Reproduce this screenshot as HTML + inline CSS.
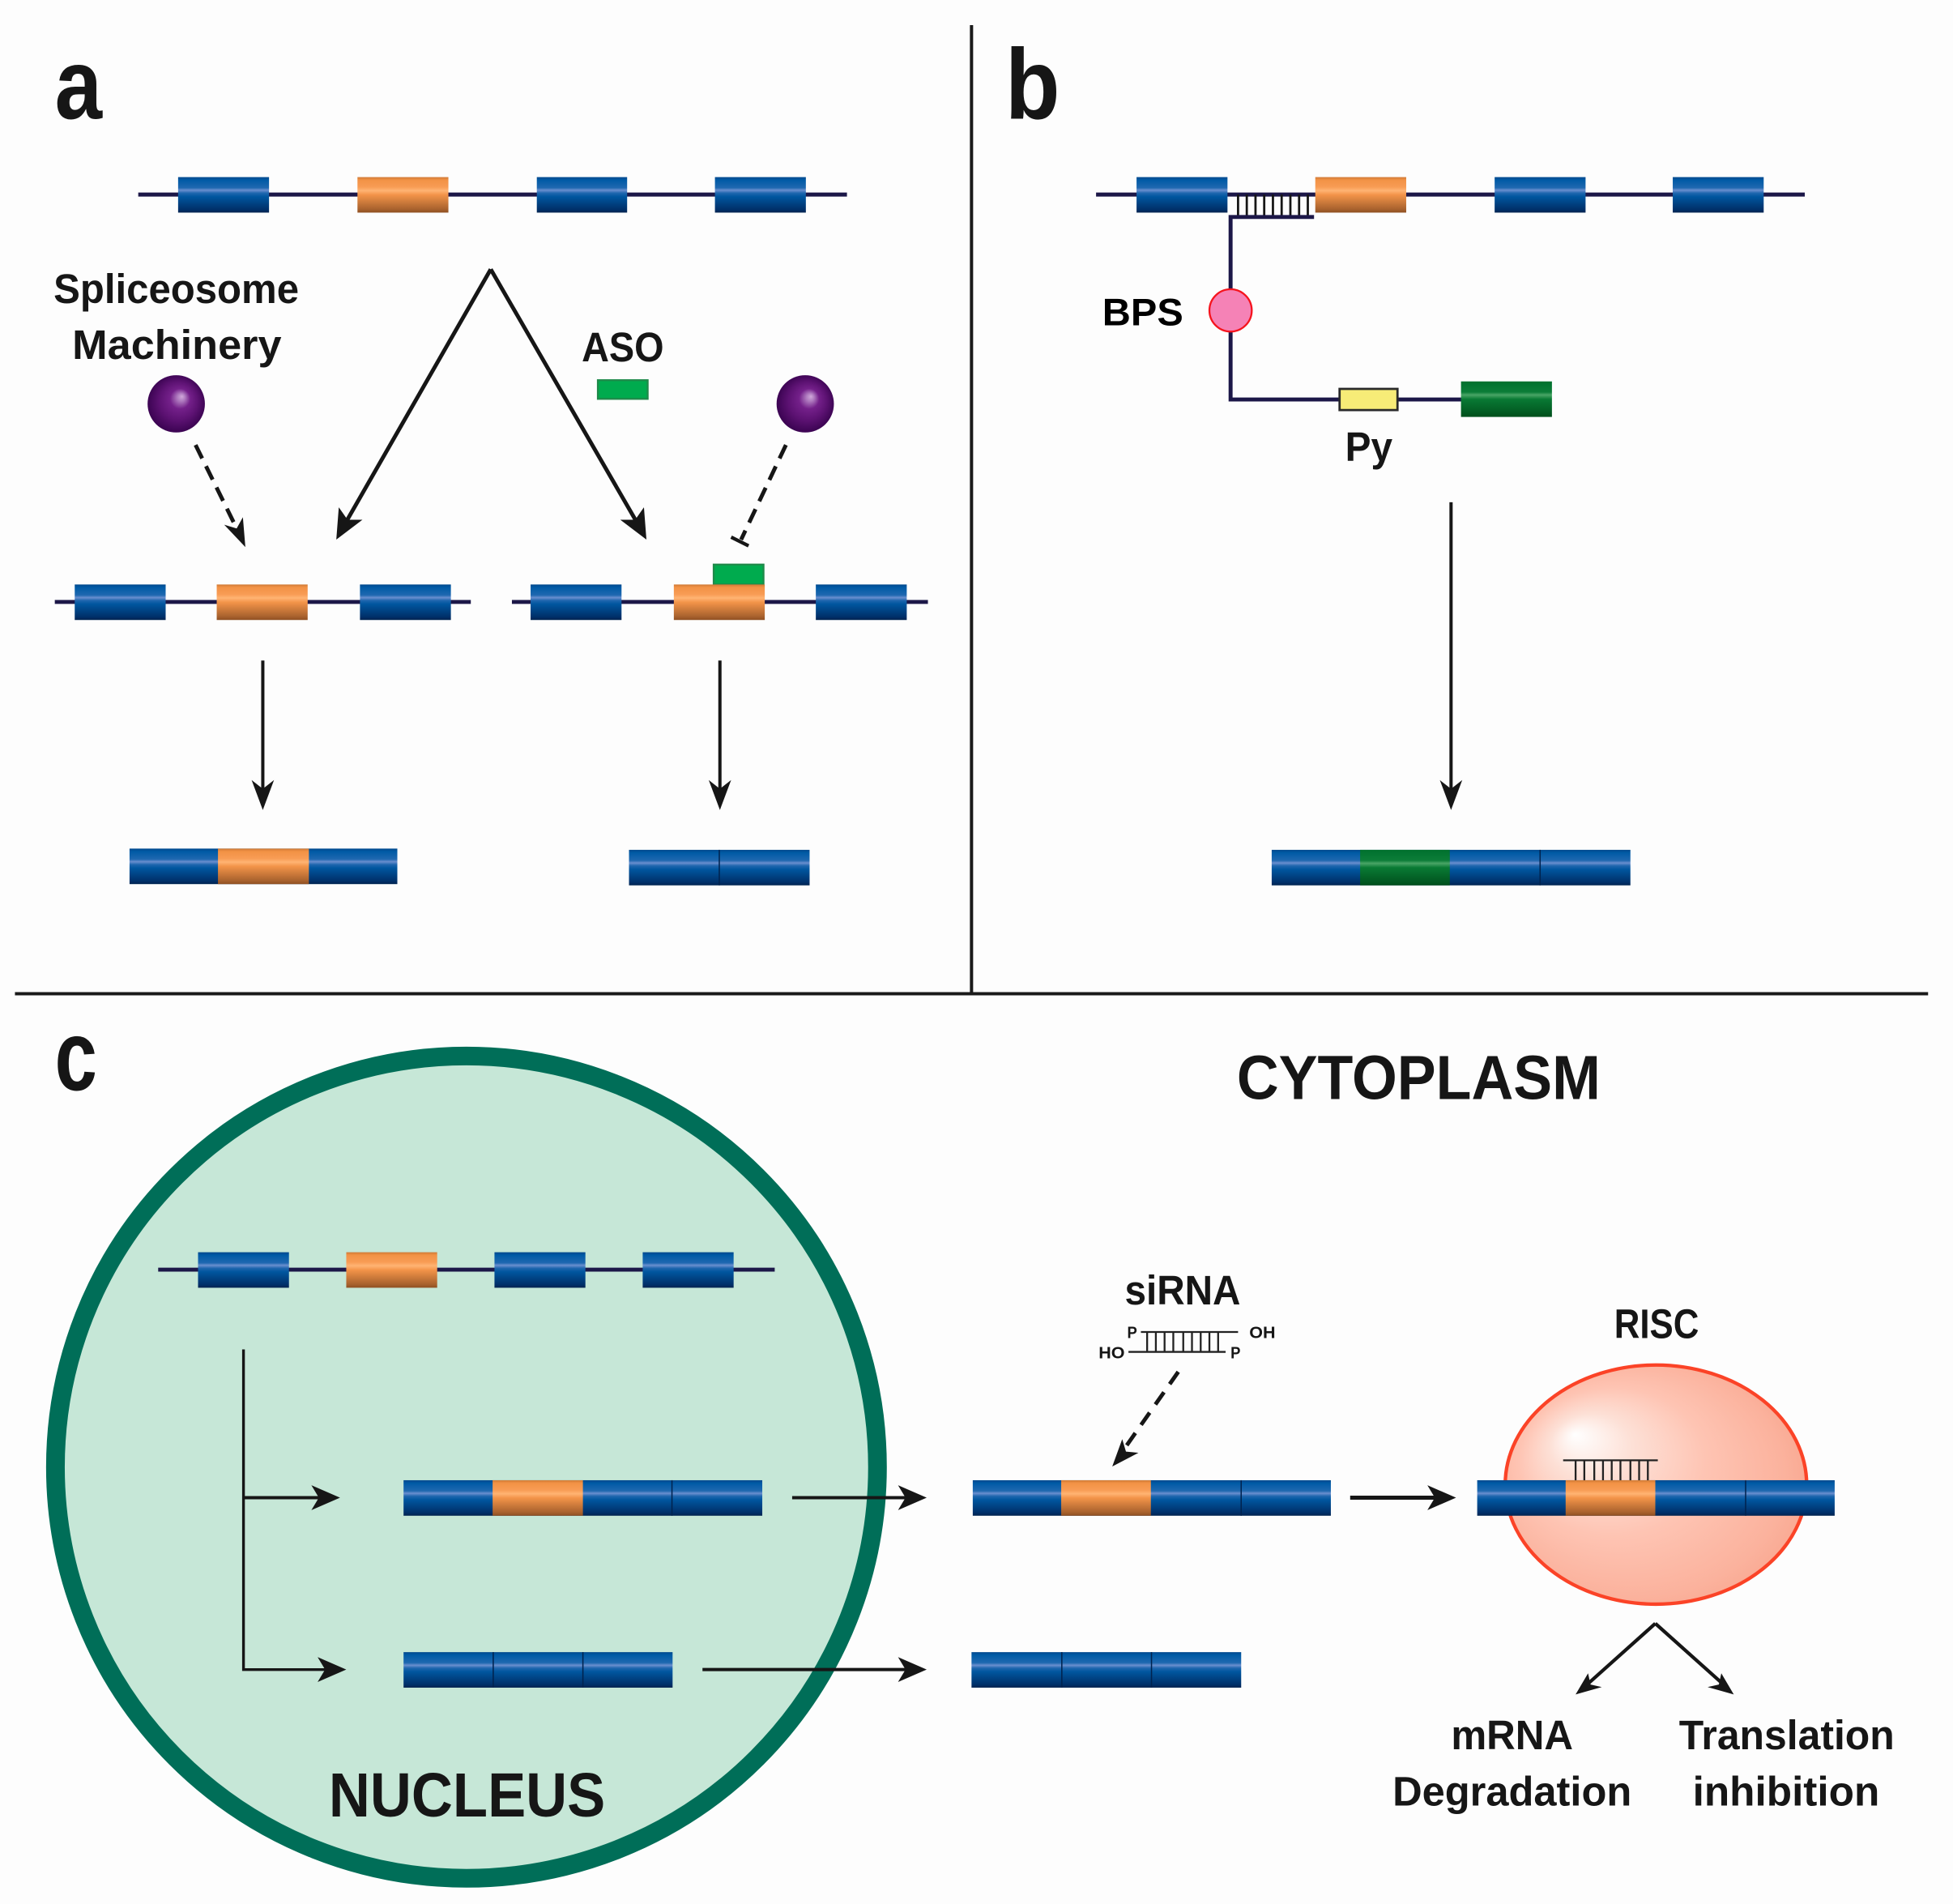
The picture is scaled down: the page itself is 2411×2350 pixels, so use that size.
<!DOCTYPE html>
<html>
<head>
<meta charset="utf-8">
<style>
html,body{margin:0;padding:0;background:#fdfdfd;}
svg{display:block;}
text{font-family:"Liberation Sans",sans-serif;font-weight:bold;fill:#161616;}
.b{fill:url(#gb);}
.o{fill:url(#go);}
.g{fill:url(#gg);}
.ln{stroke:#1c1748;stroke-width:3.2;fill:none;}
.k{stroke:#161616;fill:none;}
.sep{stroke:#00234f;stroke-width:1;}
</style>
</head>
<body>
<svg xmlns="http://www.w3.org/2000/svg" width="2411" height="2350" viewBox="0 0 1568 1528">
<defs>
<linearGradient id="gb" x1="0" y1="0" x2="0" y2="1">
<stop offset="0" stop-color="#00478c"/><stop offset=".08" stop-color="#005aa5"/><stop offset=".3" stop-color="#1f68b0"/><stop offset=".37" stop-color="#6a8fcf"/><stop offset=".45" stop-color="#1f66ae"/><stop offset=".55" stop-color="#00569f"/><stop offset=".92" stop-color="#002f68"/><stop offset="1" stop-color="#00234f"/>
</linearGradient>
<linearGradient id="go" x1="0" y1="0" x2="0" y2="1">
<stop offset="0" stop-color="#cf7a36"/><stop offset=".08" stop-color="#f29245"/><stop offset=".28" stop-color="#f89c55"/><stop offset=".38" stop-color="#ffb473"/><stop offset=".5" stop-color="#f39449"/><stop offset=".9" stop-color="#a9622e"/><stop offset="1" stop-color="#8f5022"/>
</linearGradient>
<linearGradient id="gg" x1="0" y1="0" x2="0" y2="1">
<stop offset="0" stop-color="#00702e"/><stop offset=".3" stop-color="#0c7d38"/><stop offset=".38" stop-color="#4aa566"/><stop offset=".5" stop-color="#097a34"/><stop offset="1" stop-color="#004f1c"/>
</linearGradient>
<radialGradient id="ball" cx=".5" cy=".5" r=".55" fx=".6" fy=".37">
<stop offset="0" stop-color="#d0a8da"/><stop offset=".12" stop-color="#b07cc0"/><stop offset=".32" stop-color="#74208a"/><stop offset=".6" stop-color="#5d1273"/><stop offset="1" stop-color="#33004a"/>
</radialGradient>
<radialGradient id="risc" cx=".48" cy=".52" r=".62" fx=".23" fy=".29">
<stop offset="0" stop-color="#ffffff"/><stop offset=".22" stop-color="#fde0d6"/><stop offset=".5" stop-color="#fec4b3"/><stop offset=".8" stop-color="#fbb29d"/><stop offset="1" stop-color="#f8a088"/>
</radialGradient>
</defs>
<rect width="1568" height="1528" fill="#fdfdfd"/>

<!-- dividers -->
<path d="M780 20V798" stroke="#1a1a1a" stroke-width="2.600"/>
<path d="M12 797.500H1548" stroke="#1a1a1a" stroke-width="2.600"/>

<!-- panel labels -->
<text x="44" y="95" font-size="80" textLength="38" lengthAdjust="spacingAndGlyphs">a</text>
<text x="807" y="95" font-size="80" textLength="44" lengthAdjust="spacingAndGlyphs">b</text>
<text x="44" y="875" font-size="80" textLength="34" lengthAdjust="spacingAndGlyphs">c</text>

<!-- a: top -->
<path class="ln" d="M111 156H680"/>
<rect class="b" x="143" y="142" width="73" height="28.500"/>
<rect class="o" x="287" y="142" width="73" height="28.500"/>
<rect class="b" x="431" y="142" width="72.500" height="28.500"/>
<rect class="b" x="574" y="142" width="73" height="28.500"/>

<text x="43" y="243" font-size="33" textLength="197" lengthAdjust="spacingAndGlyphs">Spliceosome</text>
<text x="58" y="288" font-size="33" textLength="168" lengthAdjust="spacingAndGlyphs">Machinery</text>
<text x="467" y="290" font-size="33" textLength="66" lengthAdjust="spacingAndGlyphs">ASO</text>
<rect x="480" y="305" width="40" height="15" fill="#00ab4e" stroke="#1f8a4a" stroke-width="1.500"/>
<circle cx="141.500" cy="324" r="23" fill="url(#ball)"/>
<circle cx="646.500" cy="324" r="23" fill="url(#ball)"/>

<path class="k" stroke-width="3.200" d="M394 216L276 422"/>
<path d="M270 433L272 407L279 417L291 417Z" fill="#161616"/>
<path class="k" stroke-width="3.200" d="M394 216L513 422"/>
<path d="M519 433L498 417L510 417L517 407Z" fill="#161616"/>
<path class="k" stroke-width="3.200" stroke-dasharray="12 7" d="M157 357L191 426"/>
<path d="M197 439L180 421L190 424L195 415Z" fill="#161616"/>
<path class="k" stroke-width="3.200" stroke-dasharray="12 7" d="M631 357L595 433"/>
<path class="k" stroke-width="2.800" d="M587 431L601 438"/>

<!-- a: row 2 -->
<path class="ln" d="M44 483H378"/>
<rect class="b" x="60" y="469" width="73" height="28.500"/>
<rect class="o" x="174" y="469" width="73" height="28.500"/>
<rect class="b" x="289" y="469" width="73" height="28.500"/>
<path class="ln" d="M411 483H745"/>
<rect x="573" y="453" width="40" height="16" fill="#00ab4e" stroke="#1f8a4a" stroke-width="1.500"/>
<rect class="b" x="426" y="469" width="73" height="28.500"/>
<rect class="o" x="541" y="469" width="73" height="28.500"/>
<rect class="b" x="655" y="469" width="73" height="28.500"/>

<path class="k" stroke-width="2.600" d="M211 530V640"/>
<path class="k" stroke-width="2.600" d="M578 530V640"/>
<path d="M211 650L202 626L211 633L220 626Z" fill="#161616"/>
<path d="M578 650L569 626L578 633L587 626Z" fill="#161616"/>

<rect class="b" x="104" y="681" width="215" height="28.500"/>
<rect class="o" x="175" y="681" width="73" height="28.500"/>
<rect class="b" x="505" y="682" width="145" height="28.500"/>
<path class="sep" d="M577.500 682V710.500"/>

<!-- b -->
<path class="ln" d="M880 156H1449"/>
<path stroke="#161616" stroke-width="1.800" d="M994 156V174M1001 156V174M1008 156V174M1015 156V174M1022 156V174M1029 156V174M1036 156V174M1043 156V174M1050 156V174"/>
<path class="ln" d="M1055 174H988V320.500H1175"/>
<rect class="b" x="912.500" y="142" width="73" height="28.500"/>
<rect class="o" x="1056" y="142" width="73" height="28.500"/>
<rect class="b" x="1200" y="142" width="73" height="28.500"/>
<rect class="b" x="1343" y="142" width="73" height="28.500"/>
<ellipse cx="988" cy="249" rx="17" ry="17" fill="#f582b6" stroke="#f5141e" stroke-width="1.500"/>
<text x="885" y="261" font-size="31" textLength="65" lengthAdjust="spacingAndGlyphs" style="fill:#000">BPS</text>
<rect x="1075.500" y="312" width="46.500" height="17" fill="#f7ec77" stroke="#2a2a2a" stroke-width="1.800"/>
<rect class="g" x="1173" y="306" width="73" height="28.500"/>
<text x="1080" y="370" font-size="33" textLength="38" lengthAdjust="spacingAndGlyphs">Py</text>
<path class="k" stroke-width="2.600" d="M1165 403V640"/>
<path d="M1165 650L1156 626L1165 633L1174 626Z" fill="#161616"/>
<rect class="b" x="1021" y="682" width="288" height="28.500"/>
<rect class="g" x="1092" y="682" width="72" height="28.500"/>
<path class="sep" d="M1236.500 682V710.500"/>

<!-- c: nucleus -->
<circle cx="374.500" cy="1177.500" r="330" fill="#c6e7d7" stroke="#006e58" stroke-width="15"/>
<text x="264" y="1458" font-size="50" textLength="222" lengthAdjust="spacingAndGlyphs">NUCLEUS</text>
<text x="993" y="882" font-size="50" textLength="292" lengthAdjust="spacingAndGlyphs">CYTOPLASM</text>

<path class="ln" d="M127 1019H622"/>
<rect class="b" x="159" y="1005" width="73" height="28.500"/>
<rect class="o" x="278" y="1005" width="73" height="28.500"/>
<rect class="b" x="397" y="1005" width="73" height="28.500"/>
<rect class="b" x="516" y="1005" width="73" height="28.500"/>

<path class="k" stroke-width="2.200" d="M195.500 1083V1340H262"/>
<path class="k" stroke-width="2.600" d="M195.500 1202H258"/>
<path d="M273 1202L250 1192L256 1202L250 1212Z" fill="#161616"/>
<path d="M278 1340L255 1330L261 1340L255 1350Z" fill="#161616"/>

<rect class="b" x="324" y="1188" width="288" height="28.500"/>
<rect class="o" x="395.500" y="1188" width="72.500" height="28.500"/>
<path class="sep" d="M539.500 1188V1216.500"/>
<rect class="b" x="324" y="1326" width="216" height="28.500"/>
<path class="sep" d="M396 1326V1354.500M468 1326V1354.500"/>

<path class="k" stroke-width="2.600" d="M636 1202H730"/>
<path d="M744 1202L721 1192L727 1202L721 1212Z" fill="#161616"/>
<path class="k" stroke-width="2.600" d="M564 1340H730"/>
<path d="M744 1340L721 1330L727 1340L721 1350Z" fill="#161616"/>

<rect class="b" x="781" y="1188" width="287.500" height="28.500"/>
<rect class="o" x="852" y="1188" width="72" height="28.500"/>
<path class="sep" d="M996.500 1188V1216.500"/>
<rect class="b" x="780" y="1326" width="216.500" height="28.500"/>
<path class="sep" d="M852.500 1326V1354.500M924.500 1326V1354.500"/>

<!-- siRNA -->
<text x="903" y="1047" font-size="33" textLength="93" lengthAdjust="spacingAndGlyphs">siRNA</text>
<path stroke="#222" stroke-width="1.500" fill="none" d="M916 1069H994M906 1085H984M921 1069V1085M928 1069V1085M935 1069V1085M942 1069V1085M950 1069V1085M957 1069V1085M964 1069V1085M971 1069V1085M978 1069V1085"/>
<text x="905" y="1074" font-size="13.500" textLength="8" lengthAdjust="spacingAndGlyphs">P</text>
<text x="882" y="1090" font-size="13.500" textLength="21" lengthAdjust="spacingAndGlyphs">HO</text>
<text x="988" y="1090" font-size="13.500" textLength="8" lengthAdjust="spacingAndGlyphs">P</text>
<text x="1003" y="1074" font-size="13.500" textLength="21" lengthAdjust="spacingAndGlyphs">OH</text>
<path class="k" stroke-width="3.200" stroke-dasharray="12 8" d="M946 1101L899 1168"/>
<path d="M893 1177L901 1155L904 1165L914 1166Z" fill="#161616"/>

<path class="k" stroke-width="3.200" d="M1084 1202H1155"/>
<path d="M1169 1202L1146 1192L1152 1202L1146 1212Z" fill="#161616"/>

<!-- RISC -->
<text x="1296" y="1074" font-size="33" textLength="68" lengthAdjust="spacingAndGlyphs">RISC</text>
<ellipse cx="1329.500" cy="1191.500" rx="121" ry="96" fill="url(#risc)" stroke="#fb4327" stroke-width="2.800"/>
<path stroke="#222" stroke-width="1.500" fill="none" d="M1255 1172H1331M1265 1172V1188M1272 1172V1188M1280 1172V1188M1287 1172V1188M1294 1172V1188M1301 1172V1188M1309 1172V1188M1316 1172V1188M1323 1172V1188"/>
<rect class="b" x="1186" y="1188" width="287" height="28.500"/>
<rect class="o" x="1257" y="1188" width="72" height="28.500"/>
<path class="sep" d="M1401.500 1188V1216.500"/>

<path class="k" stroke-width="2.800" d="M1329 1303L1272 1354"/>
<path class="k" stroke-width="2.800" d="M1329 1303L1386 1354"/>
<path d="M1265 1360L1275 1343L1277 1352L1286 1354Z" fill="#161616"/>
<path d="M1392 1360L1371 1354L1380 1352L1382 1343Z" fill="#161616"/>

<text x="1165" y="1404" font-size="33" textLength="98" lengthAdjust="spacingAndGlyphs">mRNA</text>
<text x="1118" y="1449" font-size="33" textLength="192" lengthAdjust="spacingAndGlyphs">Degradation</text>
<text x="1348" y="1404" font-size="33" textLength="173" lengthAdjust="spacingAndGlyphs">Translation</text>
<text x="1359" y="1449" font-size="33" textLength="150" lengthAdjust="spacingAndGlyphs">inhibition</text>
</svg>
</body>
</html>
